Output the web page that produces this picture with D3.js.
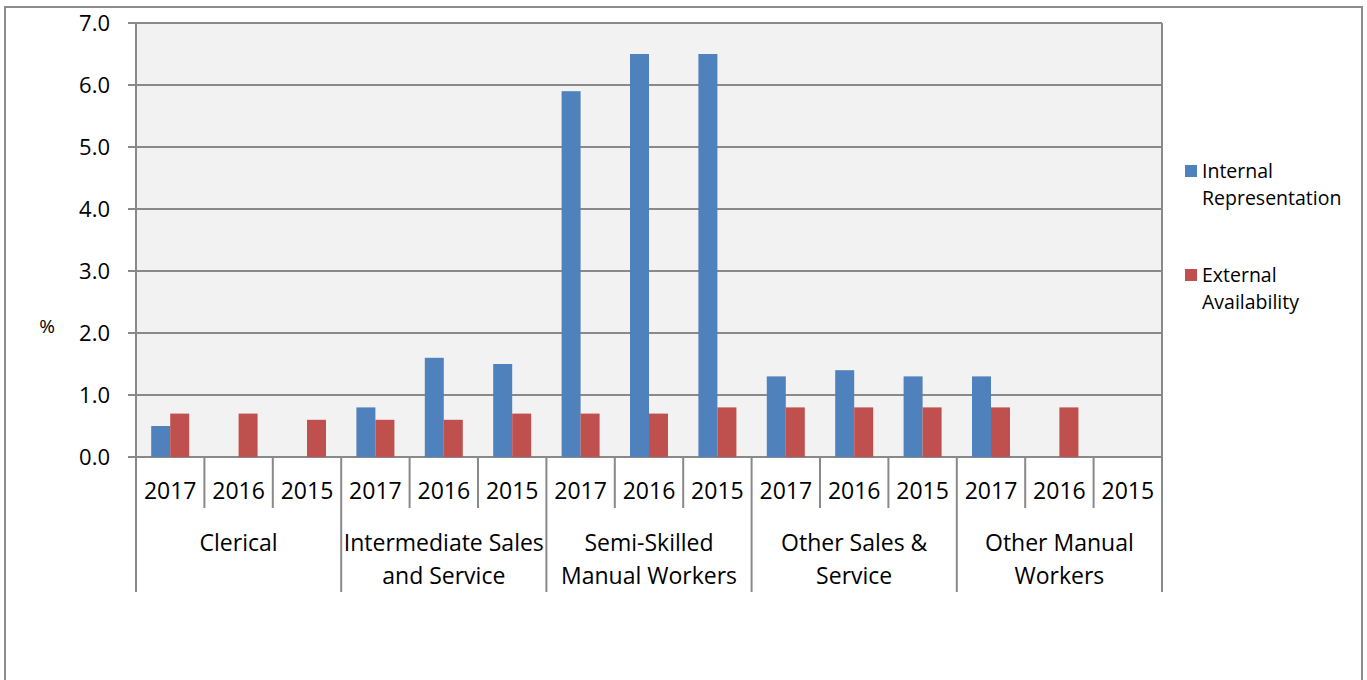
<!DOCTYPE html>
<html><head><meta charset="utf-8">
<script src="https://cdn.jsdelivr.net/npm/d3@7"></script>
<style>body{margin:0;background:#fff;}svg{display:block;font-family:"Open Sans",sans-serif;}</style>
</head><body><svg id="c" width="1367" height="680"></svg>
<script>
const groups = [["Clerical"],["Intermediate Sales","and Service"],["Semi-Skilled","Manual Workers"],["Other Sales &","Service"],["Other Manual","Workers"]];
const years = ["2017","2016","2015"];
const internalRep = [0.5,null,null, 0.8,1.6,1.5, 5.9,6.5,6.5, 1.3,1.4,1.3, 1.3,null,null];
const externalAvail = [0.7,0.7,0.6, 0.6,0.6,0.7, 0.7,0.7,0.8, 0.8,0.8,0.8, 0.8,0.8,null];
const yTicks = [0,1,2,3,4,5,6,7];
const seriesNames = [["Internal","Representation"],["External","Availability"]];
const colors = ["#4F81BD","#C0504D"];

const svg = d3.select("#c");
const L=136,R=1162,T=23,B=457;
const slots = d3.range(groups.length*years.length);
const x = d3.scaleBand().domain(slots).range([L,R]).paddingInner(0).paddingOuter(0);
const y = d3.scaleLinear().domain([0,7]).range([B,T]);
const gray="#898989";

svg.append("rect").attr("x",5).attr("y",7).attr("width",1357).attr("height",700).attr("fill","none").attr("stroke","#8c8c8c").attr("stroke-width",2);
svg.append("rect").attr("x",L).attr("y",T).attr("width",R-L).attr("height",B-T).attr("fill","#f2f2f2");
svg.append("g").selectAll("line").data(yTicks).join("line")
 .attr("x1",L-8).attr("x2",R).attr("y1",d=>y(d)).attr("y2",d=>y(d))
 .attr("stroke",gray).attr("stroke-width",2);
svg.append("g").selectAll("text").data(yTicks).join("text")
 .attr("x",110).attr("y",d=>y(d)).attr("dy","0.36em").attr("text-anchor","end")
 .attr("font-size",22).attr("fill","#000").text(d=>d.toFixed(1));
svg.append("text").attr("x",47).attr("y",326).attr("dy","0.35em").attr("text-anchor","middle").attr("font-size",19).text("%");

const bw = x.bandwidth()/3.6;
[internalRep,externalAvail].forEach((arr,si)=>{
  svg.append("g").selectAll("rect").data(arr.map((v,i)=>({v,i})).filter(d=>d.v!=null)).join("rect")
   .attr("x",d=>x(d.i)+x.bandwidth()/2-bw+si*bw).attr("width",bw)
   .attr("y",d=>y(d.v)).attr("height",d=>B-y(d.v)).attr("fill",colors[si]);
});

svg.append("line").attr("x1",L).attr("x2",L).attr("y1",T).attr("y2",592).attr("stroke",gray).attr("stroke-width",2);
svg.append("line").attr("x1",R).attr("x2",R).attr("y1",T).attr("y2",592).attr("stroke",gray).attr("stroke-width",2);
slots.slice(1).forEach(i=>{
  const isGroup = i%years.length===0;
  svg.append("line").attr("x1",x(i)).attr("x2",x(i)).attr("y1",B).attr("y2",isGroup?592:508).attr("stroke",gray).attr("stroke-width",2);
});
svg.append("g").selectAll("text").data(slots).join("text")
 .attr("x",i=>x(i)+x.bandwidth()/2).attr("y",491).attr("dy","0.36em").attr("text-anchor","middle")
 .attr("font-size",23).text(i=>years[i%years.length]);
groups.forEach((g,gi)=>{
  const cx = x(gi*years.length)+x.bandwidth()*years.length/2;
  g.forEach((line,li)=>{
    svg.append("text").attr("x",cx).attr("y",543+li*33).attr("dy","0.36em").attr("text-anchor","middle").attr("font-size",23).text(line);
  });
});
const legY=[171,275];
seriesNames.forEach((n,si)=>{
  svg.append("rect").attr("x",1185).attr("y",legY[si]-6).attr("width",12).attr("height",12).attr("fill",colors[si]);
  n.forEach((t,li)=>{
    svg.append("text").attr("x",1202).attr("y",legY[si]+li*27).attr("dy","0.36em").attr("font-size",19.5).text(t);
  });
});
</script></body></html>
